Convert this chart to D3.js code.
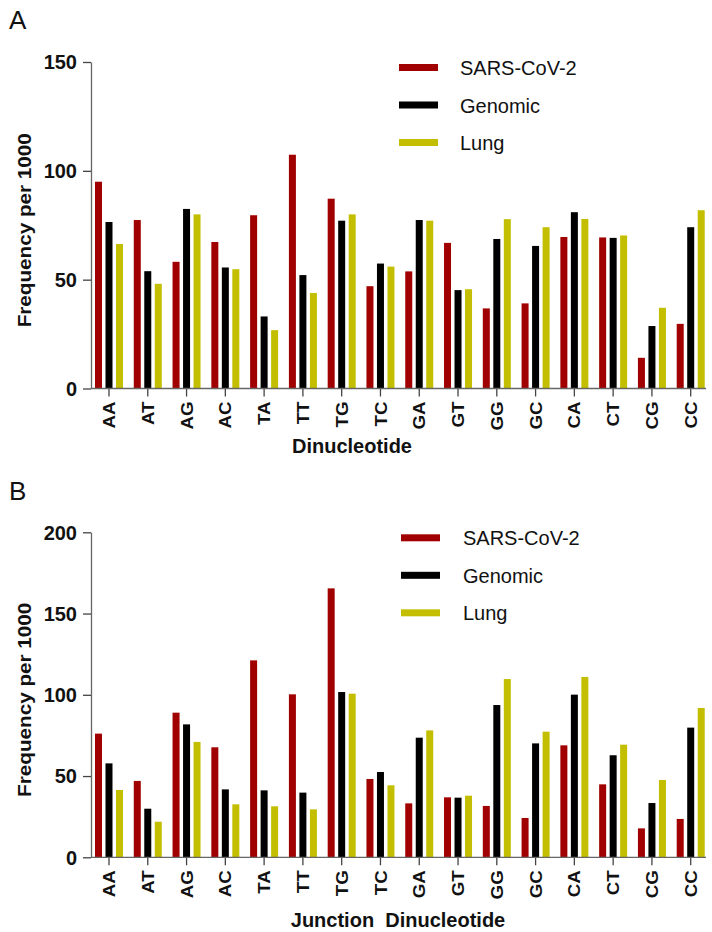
<!DOCTYPE html>
<html><head><meta charset="utf-8">
<script src="https://cdn.jsdelivr.net/npm/d3@7"></script>
<style>
html,body{margin:0;padding:0;background:#fff;}
text{font-family:"Liberation Sans",Arial,Helvetica,sans-serif;}
</style></head>
<body><svg id="chart" width="712" height="932"></svg>
<script>
const categories = ["AA","AT","AG","AC","TA","TT","TG","TC","GA","GT","GG","GC","CA","CT","CG","CC"];
const seriesNames = ["SARS-CoV-2","Genomic","Lung"];
const colors = ["#a00000","#000000","#c3bf00"];

// Panel A: Dinucleotide frequency per 1000
const aSars    = [95,77.4,58.2,67.3,79.6,107.4,87.2,47.0,53.8,66.9,36.8,39.1,69.6,69.4,14.1,29.7];
const aGenomic = [76.5,53.9,82.5,55.6,33.1,52.1,77.1,57.4,77.4,45.2,68.7,65.5,81.0,69.2,28.7,74.1];
const aLung    = [66.4,48.1,80.0,54.8,26.8,43.9,80.0,56.0,77.1,45.6,77.8,74.1,77.9,70.3,37.1,81.9];
const aTicks = [0,50,100,150];

// Panel B: Junction dinucleotide frequency per 1000
const bSars    = [76.1,47.0,89.0,67.7,121.2,100.3,165.5,48.2,33.2,36.9,31.6,24.2,68.9,44.9,17.8,23.6];
const bGenomic = [57.8,29.9,81.8,41.8,41.2,39.8,101.7,52.5,73.6,36.7,93.7,70.1,100.1,62.8,33.4,79.8];
const bLung    = [41.4,21.9,71.0,32.6,31.4,29.5,100.7,44.3,78.1,37.9,109.7,77.3,111.0,69.3,47.6,91.9];
const bTicks = [0,50,100,150,200];

const svg = d3.select("#chart");

function panel(opts){
  const {letter, letterY, top, bottom, ticks, data, xTitle, xTitleX, xTitleY, swatchX, textX} = opts;
  const axisX = 91, axisEnd = 706;
  const g = svg.append("g");
  const y = d3.scaleLinear().domain([0, d3.max(ticks)]).range([bottom, top]);
  const x = d3.scaleBand().domain(categories).range([89.6, 710.1]).padding(0);
  const sub = d3.scalePoint().domain(seriesNames).range([-10.5, 10.5]);
  const barW = 7;

  // panel letter
  svg.append("text").attr("x", 9).attr("y", letterY).attr("font-size", 26).attr("fill","#111").text(letter);

  // bars
  seriesNames.forEach((s, si) => {
    g.append("g").selectAll("rect").data(data[si]).join("rect")
      .attr("x", (d,i) => x(categories[i]) + x.bandwidth()/2 + sub(s) - barW/2)
      .attr("width", barW)
      .attr("y", d => y(d))
      .attr("height", d => y(0) - y(d))
      .attr("fill", colors[si]);
  });

  // y axis
  const ya = g.append("g").attr("transform", `translate(${axisX},0)`)
    .call(d3.axisLeft(y).tickValues(ticks).tickSize(8).tickSizeOuter(0).tickPadding(6));
  ya.select(".domain").attr("stroke", "#666").attr("stroke-width", 1.3);
  ya.selectAll(".tick line").attr("stroke", "#444").attr("stroke-width", 1.3);
  ya.selectAll(".tick text").attr("font-size", 20).attr("font-weight", "bold")
    .attr("font-family", '"Liberation Sans",Arial,sans-serif').attr("fill", "#111").attr("dy", "0.34em");

  // x axis
  const xa = g.append("g").attr("transform", `translate(0,${bottom})`)
    .call(d3.axisBottom(x).tickSize(8).tickSizeOuter(0));
  xa.select(".domain").remove();
  xa.selectAll(".tick line").attr("stroke", "#444").attr("stroke-width", 1.3);
  xa.selectAll(".tick text")
    .attr("font-size", 17).attr("font-weight", "bold").attr("fill", "#111")
    .attr("font-family", '"Liberation Sans",Arial,sans-serif')
    .attr("y", 0).attr("x", 0).attr("dy", "0.36em")
    .attr("text-anchor", "end")
    .attr("transform", "translate(0,13) rotate(-90) scale(1.1,1)");
  g.append("line").attr("x1", axisX).attr("x2", axisEnd).attr("y1", bottom).attr("y2", bottom)
    .attr("stroke", "#666").attr("stroke-width", 1.3);

  // y title
  g.append("text")
    .attr("transform", `translate(31,${(top+bottom)/2 + 5}) rotate(-90) scale(1.15,1)`)
    .attr("text-anchor", "middle").attr("font-size", 18).attr("font-weight", "bold").attr("fill", "#111")
    .text("Frequency per 1000");

  // x title
  g.append("text").attr("x", xTitleX).attr("y", xTitleY).attr("text-anchor", "middle")
    .attr("font-size", 20).attr("font-weight", "bold").attr("fill", "#111")
    .style("white-space", "pre").text(xTitle);

  // legend
  seriesNames.forEach((s, si) => {
    const cy = top + 5.5 + 37.5*si;
    g.append("rect").attr("x", swatchX).attr("y", cy - 3.5).attr("width", 39).attr("height", 7).attr("fill", colors[si]);
    g.append("text").attr("x", textX).attr("y", cy + 7.5).attr("font-size", 20).attr("fill", "#111").text(s);
  });
}

panel({letter:"A", letterY:29, top:62, bottom:388.5, ticks:aTicks, data:[aSars,aGenomic,aLung],
  xTitle:"Dinucleotide", xTitleX:352, xTitleY:453, swatchX:399, textX:460});
panel({letter:"B", letterY:500, top:532.3, bottom:857.3, ticks:bTicks, data:[bSars,bGenomic,bLung],
  xTitle:"Junction  Dinucleotide", xTitleX:398, xTitleY:927, swatchX:401, textX:463});
</script></body></html>
